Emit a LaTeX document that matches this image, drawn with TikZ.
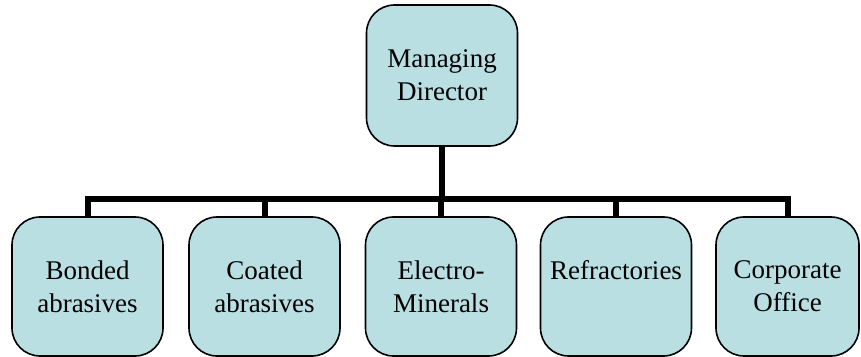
\documentclass[tikz,border=0pt]{standalone}
\usepackage{fontspec}
\setmainfont{Liberation Serif}
\usepackage{xcolor}
\usepackage{tikz}
\definecolor{boxfill}{RGB}{185,223,227}

\begin{document}
\begin{tikzpicture}[x=0.5pt,y=-0.5pt]
        \tikzstyle{box}=[draw=black,line width=0.8pt,fill=boxfill,rounded corners=14pt,
          minimum width=75.5pt,minimum height=69.5pt,align=center,inner sep=0pt,
          font=\fontsize{13.5}{16.5}\selectfont]
        \tikzstyle{conn}=[line width=3pt,black,line join=miter]
        \useasboundingbox (0,0) rectangle (861,357);
        \node [box,minimum height=70.5pt] (md) at (442,75.5) {Managing\\Director};
        \node [box] (bonded) at (87.5,286.5) {Bonded\\abrasives};
        \node [box] (coated) at (264.5,286.5) {Coated\\abrasives};
        \node [box] (electro) at (441,286.5) {Electro-\\Minerals};
        \node [box] (refract) at (616,286.5) {Refractories\\\mbox{}};
        \node [box,minimum width=71.5pt] (corp) at (787.5,286.5) {Corporate\\Office};
        \coordinate (bar) at (441,199);
        \draw [conn] (md.south) -- (md.south |- bar);
        \draw [conn] (bonded.north) |- (corp.north |- bar) -- (corp.north);
        \draw [conn] (coated.north) -- (coated.north |- bar);
        \draw [conn] (electro.north) -- (electro.north |- bar);
        \draw [conn] (refract.north) -- (refract.north |- bar);
\end{tikzpicture}
\end{document}
